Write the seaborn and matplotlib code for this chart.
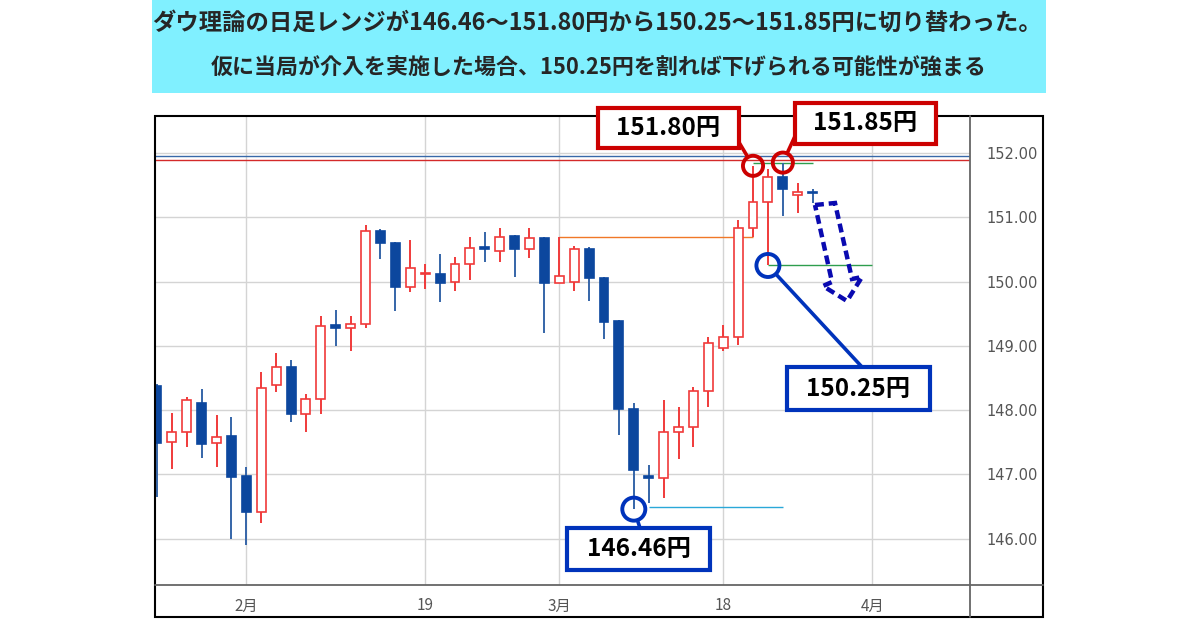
import numpy as np
import pandas as pd
import matplotlib
matplotlib.use("Agg")
import matplotlib.pyplot as plt
import seaborn as sns
from matplotlib.patches import Rectangle, Polygon
from matplotlib.lines import Line2D

# ── Data (USD/JPY daily) ─────────────────────────────────────────────────────
dates = pd.bdate_range("2024-01-24", periods=45)
opens = [148.38, 147.51, 147.66, 148.11, 147.49, 147.60, 146.98, 146.42, 148.39, 148.67,
         147.94, 148.17, 149.32, 149.28, 149.34, 150.79, 150.60, 149.92, 150.12, 150.12,
         149.99, 150.27, 150.53, 150.48, 150.71, 150.51, 150.68, 149.98, 149.99, 150.51,
         150.05, 149.39, 148.02, 146.97, 146.95, 147.66, 147.74, 148.30, 148.97, 149.14,
         150.83, 151.24, 151.63, 151.35, 151.40]
highs = [148.40, 147.96, 148.21, 148.33, 147.93, 147.89, 147.12, 148.59, 148.89, 148.78,
         148.25, 149.46, 149.56, 149.46, 150.88, 150.82, 150.62, 150.65, 150.27, 150.43,
         150.38, 150.69, 150.77, 150.83, 150.72, 150.83, 150.70, 150.70, 150.55, 150.54,
         150.07, 149.40, 148.11, 147.15, 148.16, 148.05, 148.36, 149.14, 149.33, 150.96,
         151.80, 151.75, 151.85, 151.53, 151.44]
lows = [146.65, 147.09, 147.43, 147.26, 147.12, 146.00, 145.90, 146.25, 148.28, 147.82,
        147.66, 147.94, 149.00, 148.92, 149.28, 150.35, 149.54, 149.84, 149.88, 149.68,
        149.85, 150.02, 150.30, 150.30, 150.07, 150.37, 149.20, 149.97, 149.85, 149.70,
        149.11, 147.61, 146.46, 146.55, 146.63, 147.24, 147.43, 148.05, 148.92, 149.01,
        150.69, 150.25, 151.02, 151.07, 151.22]
closes = [147.49, 147.66, 148.16, 147.47, 147.58, 146.96, 146.42, 148.35, 148.67, 147.94,
          148.17, 149.31, 149.28, 149.34, 150.79, 150.60, 149.92, 150.21, 150.14, 149.98,
          150.27, 150.52, 150.50, 150.69, 150.51, 150.68, 149.98, 150.09, 150.51, 150.05,
          149.37, 148.02, 147.07, 146.94, 147.66, 147.74, 148.30, 149.05, 149.14, 150.83,
          151.24, 151.63, 151.44, 151.39, 151.38]

# x-axis labels
tick_dates = ["2024-02-01", "2024-02-19", "2024-03-01", "2024-03-18", "2024-04-01"]
tick_labels = ["2月", "19", "3月", "18", "4月"]
price_ticks = [146, 147, 148, 149, 150, 151, 152]

# marked highs / lows (candle date, price, label)
mark_dates = ["2024-03-20", "2024-03-22", "2024-03-21", "2024-03-08"]
mark_prices = [151.80, 151.85, 150.25, 146.46]
mark_labels = ["151.80円", "151.85円", "150.25円", "146.46円"]

# horizontal level lines drawn on the chart
level_prices = [151.95, 151.89, 151.84, 150.25, 150.70, 146.49]
level_from = ["2024-01-01", "2024-01-01", "2024-03-20", "2024-03-21", "2024-03-01", "2024-03-11"]
level_to = ["2024-05-01", "2024-05-01", "2024-03-26", "2024-04-01", "2024-03-20", "2024-03-22"]

title1 = "ダウ理論の日足レンジが146.46～151.80円から150.25～151.85円に切り替わった。"
title2 = "仮に当局が介入を実施した場合、150.25円を割れば下げられる可能性が強まる"

# ── Styles ────────────────────────────────────────────────────────────────────
sns.set_theme(style="white")
plt.rcParams["font.family"] = ["Noto Sans CJK JP", "DejaVu Sans"]

RED = "#F03A3A"
BLUE = "#0C479E"
BLUE_WICK = "#3565A8"
MARK_RED = "#CC0000"
MARK_BLUE = "#0033BB"
level_colors = ["#3868A8", "#D42A2A", "#2E9E4E", "#2E9E4E", "#F07828", "#2AA8D8"]

W, H = 1200, 630
fx = lambda x: x / W
fy = lambda y: 1 - y / H

# trading-day index for every date on the axis
all_days = pd.bdate_range("2024-01-24", "2024-05-01")
pos = pd.Series(np.arange(len(all_days)), index=all_days)
def day_idx(d):
    d = pd.Timestamp(d)
    if d < all_days[0]:
        return -5
    return pos[all_days[all_days >= d][0]]

df = pd.DataFrame({"date": dates, "open": opens, "high": highs, "low": lows, "close": closes})
df["x"] = [day_idx(d) for d in df["date"]]
up = df["close"] >= df["open"]

fig = plt.figure(figsize=(12, 6.3), dpi=100)
fig.patch.set_facecolor("white")
ax = fig.add_axes([fx(155), fy(585), (970 - 155) / W, (585 - 116) / H])

# grid
for p in price_ticks:
    ax.axhline(p, color="#D4D4D4", lw=1, zorder=0)
tick_x = [day_idx(d) for d in tick_dates]
for t in tick_x:
    ax.axvline(t, color="#D4D4D4", lw=1, zorder=0)

# level lines
for p, a, b, c in zip(level_prices, level_from, level_to, level_colors):
    ax.hlines(p, day_idx(a), day_idx(b), color=c, lw=1, zorder=1)

# candles
ax.vlines(df["x"], df["low"], df["high"],
          colors=np.where(up, RED, BLUE_WICK), lw=1.4, zorder=2)
body_lo = np.minimum(df["open"], df["close"])
body_h = np.maximum((df["close"] - df["open"]).abs(), 0.02)
ax.bar(df["x"], body_h, bottom=body_lo, width=0.6,
       color=np.where(up, "white", BLUE), edgecolor=np.where(up, RED, BLUE),
       lw=1.2, zorder=3)

ax.set_xlim(-0.13, 54.56)
ax.set_ylim(145.28, 152.575)
ax.set_xticks(tick_x)
ax.set_xticklabels(tick_labels)
ax.set_yticks(price_ticks)
ax.set_yticklabels([f"{p:.2f}" for p in price_ticks], family="DejaVu Sans")
ax.yaxis.tick_right()
ax.tick_params(axis="x", length=0, pad=9, labelsize=11, labelcolor="#555555")
ax.tick_params(axis="y", length=0, pad=12, labelsize=10.5, labelcolor="#555555")
for s in ax.spines.values():
    s.set_visible(False)
ax.grid(False)

# outer frame and panel dividers
fig.add_artist(Rectangle((fx(155), fy(617)), (1043 - 155) / W, (617 - 116) / H,
                         transform=fig.transFigure, fill=False, ec="black", lw=1.5))
fig.add_artist(Line2D([fx(970), fx(970)], [fy(116), fy(617)], transform=fig.transFigure,
                      color="#666666", lw=1.3))
fig.add_artist(Line2D([fx(155), fx(1043)], [fy(585), fy(585)], transform=fig.transFigure,
                      color="#666666", lw=1.3))

# title banner
fig.add_artist(Rectangle((fx(152), fy(93)), (1046 - 152) / W, 93 / H,
                         transform=fig.transFigure, fc="#80F0FF", ec="none", zorder=0))
fig.text(fx(597), fy(23), title1, ha="center", va="center", fontsize=16.8, weight="bold")
fig.text(fx(599), fy(68), title2, ha="center", va="center", fontsize=15.8, weight="bold")

# circles on the marked prices
mark_x = [day_idx(d) for d in mark_dates]
mark_cols = [MARK_RED, MARK_RED, MARK_BLUE, MARK_BLUE]
ax.scatter(mark_x, mark_prices, s=[210, 210, 275, 275], facecolors="none",
           edgecolors=mark_cols, linewidths=2.8, zorder=6, clip_on=False)

# callout boxes (left, top, right, bottom in px) and where the leader line leaves them
boxes = [(598, 108, 739, 148), (795, 103, 936, 144), (787, 367, 930, 410), (567, 528, 710, 570)]
leader_start = [(737, 139), (796, 134), (862, 367), (640, 528)]
radii = [7.5, 7.5, 8.5, 8.5]
for (l, t, r, b), (sx, sy), mx, mp, lab, col, rad in zip(
        boxes, leader_start, mark_x, mark_prices, mark_labels, mark_cols, radii):
    ax.annotate("", xy=(mx, mp), xycoords="data",
                xytext=(fx(sx), fy(sy)), textcoords="figure fraction",
                arrowprops=dict(arrowstyle="-", color=col, lw=2.6, shrinkA=0, shrinkB=rad),
                zorder=6)
    fig.add_artist(Rectangle((fx(l), fy(b)), (r - l) / W, (b - t) / H,
                             transform=fig.transFigure, fc="white", ec=col, lw=3, zorder=7))
    fig.text(fx((l + r) / 2), fy((t + b) / 2), lab, ha="center", va="center",
             fontsize=17.5, weight="bold", color="black", zorder=8)

# dashed down arrow
arrow_px = [(815, 205), (835, 203), (852, 279), (862, 277), (847, 301), (823, 286), (832, 282)]
fig.add_artist(Polygon([(fx(x), fy(y)) for x, y in arrow_px], closed=True,
                       transform=fig.transFigure, fill=False, ec="#0A0AB0", lw=3.2,
                       ls=(0, (2.0, 1.1)), joinstyle="miter", zorder=6))

fig.savefig("out.png", dpi=100)
